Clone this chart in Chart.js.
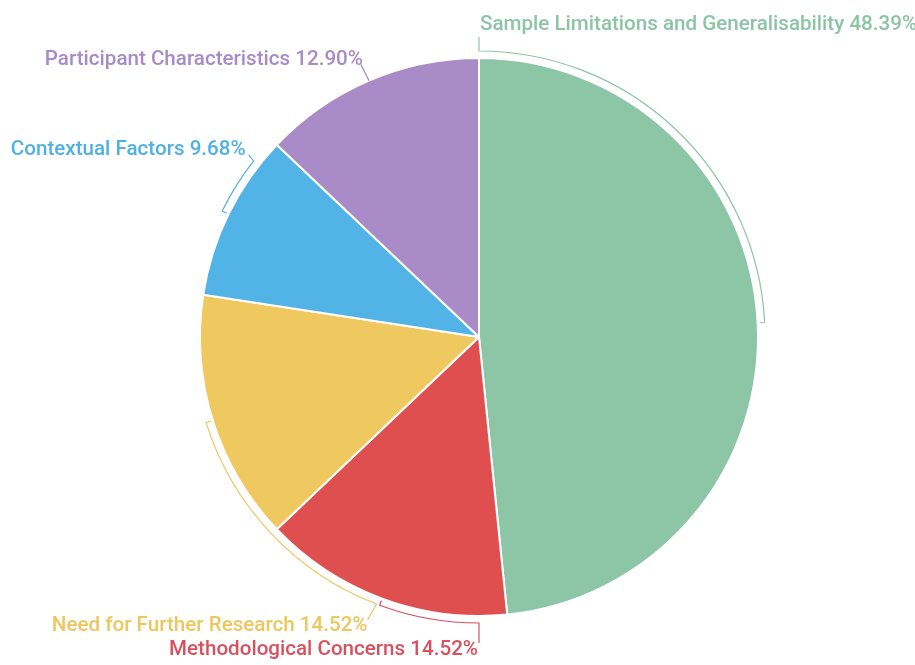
<!DOCTYPE html>
<html>
<head>
<meta charset="utf-8">
<script src="https://cdn.jsdelivr.net/npm/chart.js@4.4.0/dist/chart.umd.min.js"></script>
<style>
    html, body { margin: 0; padding: 0; background: #fff; }
    #wrap { width: 915px; height: 665px; position: relative; }
</style>
</head>
<body>
<div id="wrap"><canvas id="pieChart"></canvas></div>
<script>
// Data
const categories = [
    'Sample Limitations and Generalisability',
    'Methodological Concerns',
    'Need for Further Research',
    'Contextual Factors',
    'Participant Characteristics'
];
const counts = [30, 9, 9, 6, 8];
const percentLabels = ['48.39%', '14.52%', '14.52%', '9.68%', '12.90%'];

const sliceColors = ['#8dc5a7', '#df4f4f', '#f0c860', '#52b4e6', '#a98bc7'];
const textColors = ['#8cc4a6', '#d9505f', '#eec65c', '#4fb1e3', '#a88bc6'];

// Where each label's leader meets its bracket (degrees clockwise from top),
// and where the text sits relative to that point
const labelLayout = [
    { angle: 0,   dx: 0,   dy: -14, align: 'left',  tx: 1,  ty: -12 },
    { angle: 180, dx: 0,   dy: 20,  align: 'right', tx: -1, ty: 7 },
    { angle: 201, dx: -9,  dy: 16,  align: 'right', tx: 0,  ty: 6 },
    { angle: 308, dx: -5,  dy: -6,  align: 'right', tx: -3, ty: -5 },
    { angle: null, dx: -8, dy: -16, align: 'right', tx: 2,  ty: -5 }
];

// Callout brackets + labels
const calloutPlugin = {
    id: 'callouts',
    afterDatasetsDraw(chart) {
        const ctx = chart.ctx;
        const meta = chart.getDatasetMeta(0);
        ctx.save();
        meta.data.forEach((arc, i) => {
            const cx = arc.x, cy = arc.y, r = arc.outerRadius;
            const mid = (arc.startAngle + arc.endAngle) / 2;
            const lay = labelLayout[i];
            const rb = r + 7;
            ctx.strokeStyle = textColors[i];
            ctx.lineWidth = 1.2;
            ctx.beginPath();
            let ax, ay;
            if (lay.angle === null) {
                ax = cx + r * Math.cos(mid);
                ay = cy + r * Math.sin(mid);
                ctx.moveTo(ax, ay);
            } else {
                const a = (lay.angle - 90) * Math.PI / 180;
                ctx.moveTo(cx + (r + 2) * Math.cos(mid), cy + (r + 2) * Math.sin(mid));
                ctx.lineTo(cx + rb * Math.cos(mid), cy + rb * Math.sin(mid));
                ctx.arc(cx, cy, rb, mid, a, a < mid);
                ax = cx + rb * Math.cos(a);
                ay = cy + rb * Math.sin(a);
            }
            const lx = ax + lay.dx, ly = ay + lay.dy;
            ctx.lineTo(lx, ly);
            ctx.stroke();

            ctx.fillStyle = textColors[i];
            ctx.font = '500 20.6px Roboto';
            ctx.textAlign = lay.align;
            ctx.textBaseline = 'middle';
            ctx.fillText(categories[i] + ' ' + percentLabels[i], lx + lay.tx, ly + lay.ty);
        });
        ctx.restore();
    }
};

const ctx = document.getElementById('pieChart').getContext('2d');
new Chart(ctx, {
    type: 'pie',
    data: {
        labels: categories,
        datasets: [{
            data: counts,
            backgroundColor: sliceColors,
            borderColor: '#ffffff',
            borderWidth: 2
        }]
    },
    options: {
        responsive: true,
        maintainAspectRatio: false,
        animation: false,
        layout: {
            padding: { top: 57, bottom: 48, left: 199, right: 156 }
        },
        plugins: {
            legend: { display: false },
            tooltip: { enabled: false }
        }
    },
    plugins: [calloutPlugin]
});
</script>
</body>
</html>
